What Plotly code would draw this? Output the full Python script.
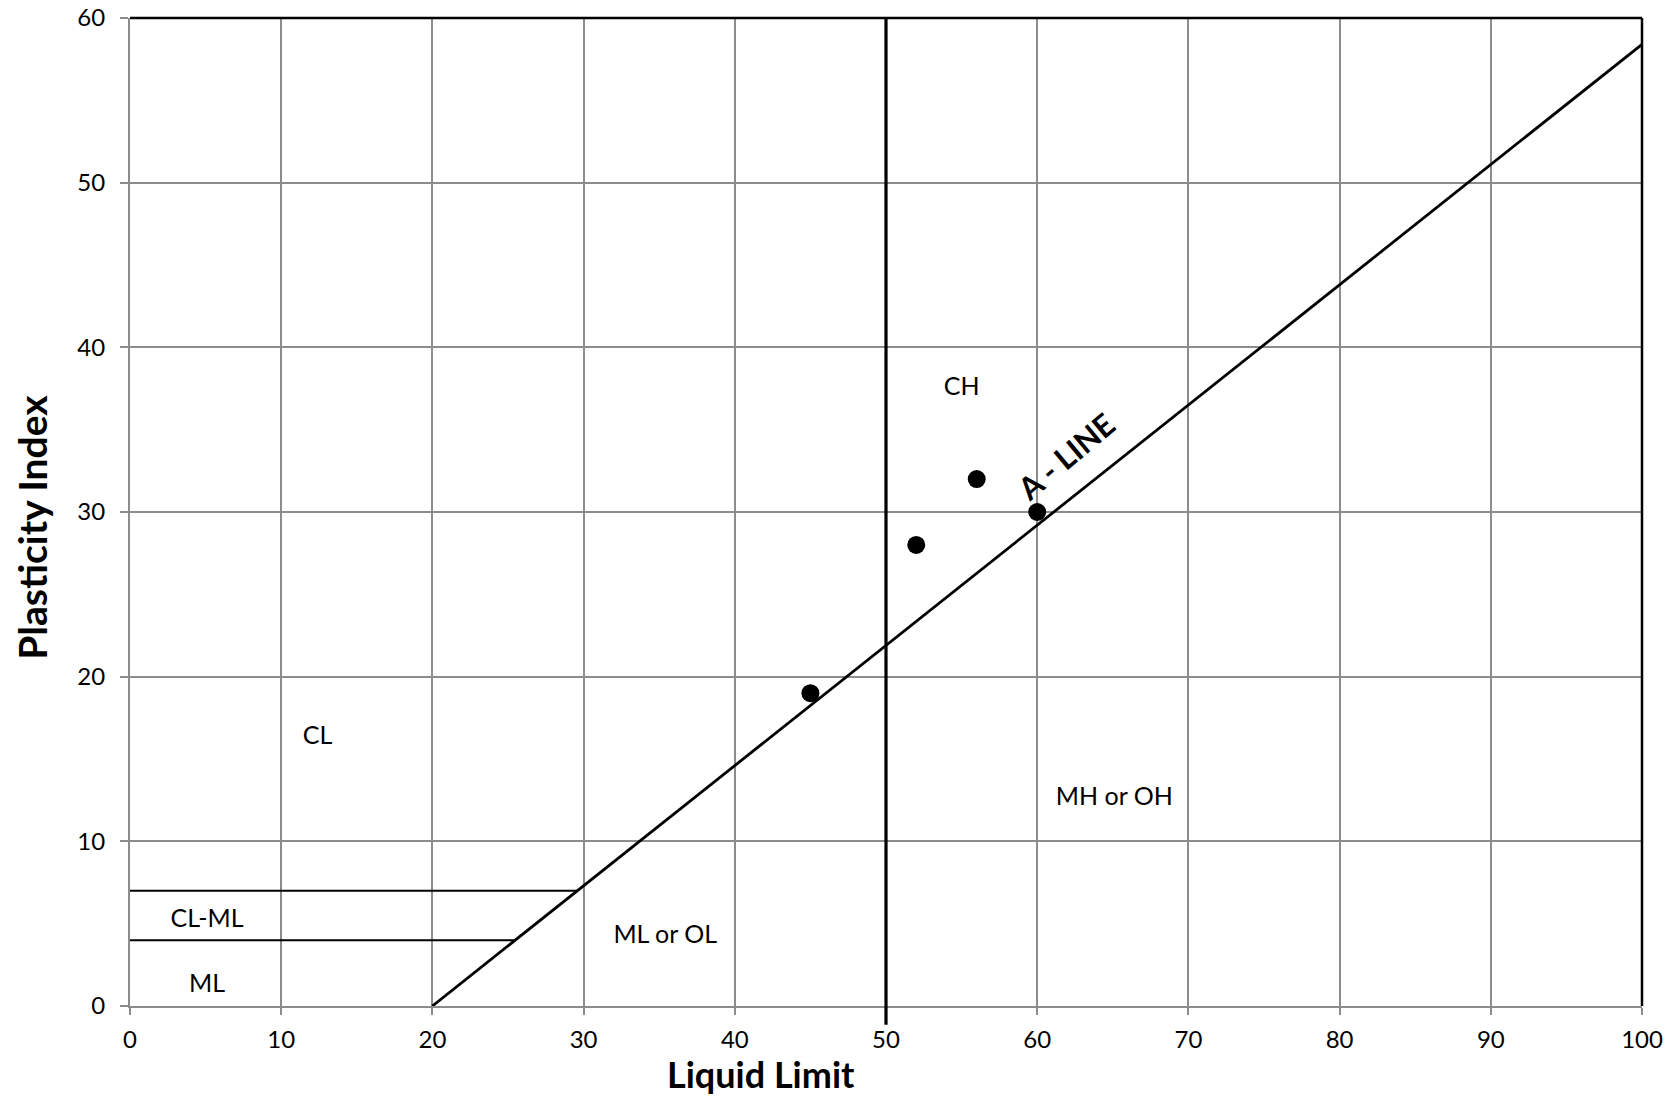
import plotly.graph_objects as go

# Sample data (Liquid Limit, Plasticity Index)
ll_points = [45, 52, 56, 60]
pi_points = [19, 28, 32, 30]

# A-line endpoints
aline_ll = [20, 100]
aline_pi = [0, 58.4]

# CL-ML boundary lines
upper_ll = [0, 29.6]
upper_pi = [7, 7]
lower_ll = [0, 25.5]
lower_pi = [4, 4]

# Liquid limit divider
divider_ll = 50

# Region labels
region_text = ["CL", "CL-ML", "ML", "ML or OL", "MH or OH", "CH"]
region_x = [12.4, 5.1, 5.1, 35.4, 65.1, 55.0]
region_y = [16.3, 5.2, 1.2, 4.2, 12.6, 37.5]

x_ticks = [0, 10, 20, 30, 40, 50, 60, 70, 80, 90, 100]
y_ticks = [0, 10, 20, 30, 40, 50, 60]

FONT = "Lato"
GRID = "#8c8c8c"

fig = go.Figure()

fig.add_trace(go.Scatter(x=aline_ll, y=aline_pi, mode="lines",
                         line=dict(color="black", width=2.8), hoverinfo="skip"))
fig.add_trace(go.Scatter(x=upper_ll, y=upper_pi, mode="lines",
                         line=dict(color="black", width=2), hoverinfo="skip"))
fig.add_trace(go.Scatter(x=lower_ll, y=lower_pi, mode="lines",
                         line=dict(color="black", width=2), hoverinfo="skip"))
fig.add_trace(go.Scatter(x=ll_points, y=pi_points, mode="markers",
                         marker=dict(color="black", size=18), cliponaxis=False))
fig.add_trace(go.Scatter(x=region_x, y=region_y, mode="text", text=region_text,
                         textfont=dict(family=FONT, size=25, color="black"),
                         hoverinfo="skip"))

# vertical divider at LL = 50 (extends slightly below the axis)
fig.add_shape(type="line", xref="x", yref="y domain", x0=divider_ll, x1=divider_ll,
              y0=-0.019, y1=1.0, line=dict(color="black", width=3.2), layer="above")
# black top and right frame
fig.add_shape(type="line", xref="paper", yref="paper", x0=0, x1=1, y0=1, y1=1,
              line=dict(color="black", width=2.5), layer="above")
fig.add_shape(type="line", xref="paper", yref="paper", x0=1, x1=1, y0=0, y1=1,
              line=dict(color="black", width=2.5), layer="above")

fig.add_annotation(x=61.9, y=33.4, xref="x", yref="y", text="<b>A - LINE</b>",
                   showarrow=False, textangle=-40,
                   font=dict(family=FONT, size=31, color="black"))
fig.add_annotation(x=0.417, y=-0.069, xref="paper", yref="paper", text="<b>Liquid Limit</b>",
                   showarrow=False, yanchor="middle",
                   font=dict(family=FONT, size=36, color="black"))
fig.add_annotation(x=-0.0648, y=0.484, xref="paper", yref="paper", text="<b>Plasticity Index</b>",
                   showarrow=False, textangle=-90, xanchor="center",
                   font=dict(family=FONT, size=39, color="black"))

fig.update_layout(
    width=1674, height=1098,
    margin=dict(l=130, r=32, t=18, b=92, autoexpand=False),
    paper_bgcolor="white", plot_bgcolor="white",
    showlegend=False,
    font=dict(family=FONT, size=24, color="black"),
    xaxis=dict(range=[0, 100], tickvals=x_ticks, showgrid=True, gridcolor=GRID, gridwidth=2,
               showline=True, linecolor=GRID, linewidth=2, ticks="outside", tickcolor=GRID,
               ticklen=7, tickwidth=2, zeroline=False, ticklabelstandoff=4,
               ticklabeloverflow="allow", automargin=False,
               tickfont=dict(family=FONT, size=24, color="black")),
    yaxis=dict(range=[0, 60], tickvals=y_ticks, showgrid=True, gridcolor=GRID, gridwidth=2,
               showline=True, linecolor=GRID, linewidth=2, ticks="outside", tickcolor=GRID,
               ticklen=8, tickwidth=2, zeroline=False, ticklabelstandoff=10,
               ticklabeloverflow="allow", automargin=False,
               tickfont=dict(family=FONT, size=24, color="black")),
)

fig.write_html("out.html", config={"displayModeBar": False},
               post_script="document.body.style.margin='0';document.body.style.overflow='hidden';")
